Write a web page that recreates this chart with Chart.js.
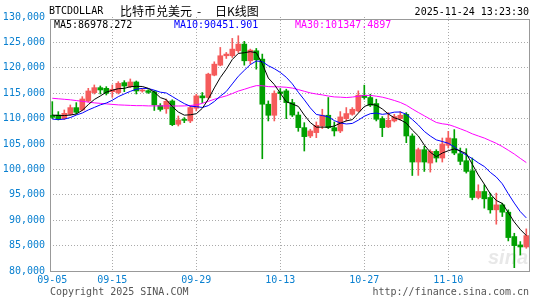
<!DOCTYPE html>
<html>
<head>
<meta charset="utf-8">
<script src="https://cdn.jsdelivr.net/npm/chart.js@4.4.1/dist/chart.umd.min.js"></script>
<style>
  html, body { margin: 0; padding: 0; background: #fff; }
  #wrap { width: 545px; height: 300px; }
</style>
</head>
<body>
<div id="wrap"><canvas id="kline" width="545" height="300"></canvas></div>
<script>
// daily candles, 09-05 .. 11-23 (index 0 .. 79)
const opens = [110650, 110710, 109990, 110840, 112160, 111700, 113470, 115110, 116090, 115960,
  115300, 115110, 117080, 116290, 117210, 115440, 115500, 115300, 112560, 111920,
  113470, 108880, 109800, 109540, 112040, 114470, 114140, 118550, 120520, 122370,
  122370, 123350, 124670, 121380, 123350, 121710, 112830, 110650, 115260, 115460,
  113150, 110700, 108220, 106580, 107240, 108550, 110660, 108220, 107560, 110000,
  110850, 111510, 114600, 114140, 112960, 110000, 108350, 109540, 110000, 110850,
  106580, 101450, 103880, 101250, 103550, 102240, 104740, 106050, 103090, 101710,
  99740, 94470, 95650, 94470, 92040, 93020, 91580, 86780, 85130, 84730];
const highs = [113340, 111370, 111700, 112680, 113140, 114320, 115960, 116620, 116420, 116290,
  116620, 117270, 117470, 117800, 117400, 115900, 115700, 115500, 112950, 113850,
  113700, 110520, 110200, 112500, 114800, 115130, 118940, 121180, 124010, 123020,
  125790, 126310, 125200, 123680, 123810, 122700, 113480, 115460, 115920, 115790,
  113800, 111300, 109200, 107900, 109340, 111840, 114150, 109340, 111380, 112170,
  112170, 115460, 116580, 114800, 113820, 110390, 111180, 110850, 111380, 111180,
  107000, 104200, 104540, 103880, 103880, 106180, 107500, 107830, 104210, 104080,
  102240, 96970, 96970, 95330, 95330, 93350, 92040, 87430, 85790, 88290];
const lows = [110000, 109730, 109800, 110650, 110910, 111570, 113270, 114850, 114850, 114650,
  114190, 114850, 115300, 116090, 114850, 115200, 114950, 111600, 111470, 111030,
  108600, 108550, 109200, 109200, 111510, 113150, 113810, 118420, 120390, 121840,
  122040, 123020, 120520, 120720, 119730, 102100, 109540, 109540, 113700, 109990,
  110400, 107500, 103620, 106250, 106250, 108030, 108030, 106580, 107240, 109540,
  110660, 111320, 113820, 112370, 109540, 106450, 108220, 109340, 109670, 105260,
  98800, 98820, 99600, 99470, 101450, 101450, 104210, 102890, 100920, 99280,
  94010, 94200, 92370, 91380, 89210, 90720, 85920, 80650, 83150, 84470];
const closes = [110250, 109860, 111040, 112160, 111240, 113860, 115440, 116090, 115640, 114980,
  115770, 116950, 116420, 117210, 115440, 115600, 115150, 112700, 111800, 113400,
  108800, 109730, 109650, 112170, 114470, 114080, 118750, 120720, 122370, 122700,
  123680, 124670, 121380, 123480, 121580, 112830, 110650, 114990, 114930, 113150,
  110700, 108220, 106450, 107570, 108680, 110660, 108220, 107570, 110330, 110990,
  111840, 114610, 114150, 112630, 109870, 108220, 109670, 110390, 110660, 106580,
  101450, 103880, 101450, 103550, 102240, 105000, 106180, 103220, 101580, 99600,
  94470, 95650, 94210, 92040, 93020, 91580, 86580, 85000, 84730, 86970];

const ma5 = [110700, 110600, 110600, 110700, 110910, 111630, 112750, 113760, 114450, 115200,
  115580, 115890, 115950, 116270, 116360, 116320, 115960, 115220, 114140, 113730,
  112370, 111290, 110680, 110750, 110960, 112020, 113820, 116040, 118080, 119720,
  121640, 122830, 122960, 123180, 122960, 120790, 117980, 116710, 115000, 113310,
  112880, 112400, 110690, 109220, 108320, 108320, 108320, 108540, 109090, 109550,
  109790, 111070, 112380, 112840, 112620, 111900, 110910, 110160, 109760, 109110,
  107750, 106590, 104800, 103380, 102510, 103220, 103680, 104040, 103640, 103120,
  101010, 98900, 97100, 95190, 93880, 93300, 91490, 89640, 88180, 86978];
const ma10 = [109900, 109800, 109900, 110200, 110700, 111100, 111700, 112200, 112700, 113060,
  113610, 114320, 114860, 115360, 115780, 115950, 115930, 115590, 115200, 115040,
  114350, 113630, 112950, 112440, 112350, 112200, 112560, 113360, 114410, 115340,
  116830, 118330, 119500, 120630, 121340, 121220, 120410, 119830, 119090, 118130,
  116840, 115190, 113700, 112110, 110820, 110600, 110360, 109610, 109150, 108940,
  109050, 109690, 110460, 110970, 111090, 110840, 110990, 111270, 111300, 110860,
  109820, 108750, 107480, 106570, 105810, 105490, 105140, 104420, 103510, 102820,
  102120, 101290, 100570, 99420, 98500, 97160, 95200, 93370, 91690, 90452];
const ma30 = [114000, 113900, 113800, 113700, 113550, 113400, 113250, 113100, 113000, 112900,
  112800, 112700, 112650, 112600, 112550, 112550, 112500, 112500, 112500, 112500,
  112480, 112480, 112500, 112580, 112700, 113000, 113400, 113800, 114150, 114480,
  114930, 115420, 115770, 116150, 116490, 116460, 116300, 116260, 116240, 116170,
  116010, 115710, 115380, 115060, 114840, 114670, 114440, 114270, 114220, 114140,
  114240, 114400, 114550, 114570, 114410, 114220, 113920, 113570, 113180, 112640,
  111900, 111210, 110550, 109880, 109240, 108980, 108830, 108440, 107990, 107540,
  107000, 106580, 106170, 105650, 105130, 104500, 103770, 103020, 102170, 101347];

const tickDays = [0, 10, 24, 38, 52, 66];
const tickLabels = ['09-05', '09-15', '09-29', '10-13', '10-27', '11-10'];

const UP = '#f55b5b';
const DOWN = '#00a000';
const AXIS_BLUE = '#0a80d0';
const MONO = '"DejaVu Sans Mono", monospace';

const candleColors = closes.map((c, i) => (c >= opens[i] ? UP : DOWN));

const lineSet = (label, values, color) => ({
  type: 'line',
  label,
  data: values.map((v, i) => ({ x: i, y: v })),
  borderColor: color,
  borderWidth: 1,
  pointRadius: 0,
  tension: 0,
  fill: false,
  order: 0,
});

const decor = {
  id: 'decor',
  beforeDatasetsDraw(chart) {
    const { ctx, chartArea: a } = chart;
    ctx.save();
    ctx.font = 'italic bold 20px "Liberation Sans", sans-serif';
    ctx.fillStyle = 'rgba(150,150,150,0.22)';
    ctx.textAlign = 'right';
    ctx.textBaseline = 'alphabetic';
    ctx.fillText('sina', a.right - 1, a.bottom - 7);
    ctx.strokeStyle = '#999';
    ctx.lineWidth = 1;
    ctx.strokeRect(a.left + 0.5, a.top + 2.5, a.right - a.left, a.bottom - a.top - 2);
    ctx.restore();
  },
  afterDraw(chart) {
    const { ctx } = chart;
    ctx.save();
    ctx.textBaseline = 'middle';
    ctx.textAlign = 'left';
    ctx.fillStyle = '#000';
    ctx.font = '10px ' + MONO;
    ctx.fillText('BTCDOLLAR', 49, 11);
    ctx.font = '12px "Noto Sans CJK SC"';
    ctx.fillText('比特币兑美元', 120, 11);
    ctx.fillText('-', 197, 11);
    ctx.fillText('日K线图', 215, 11);
    ctx.font = '10px ' + MONO;
    ctx.textAlign = 'right';
    ctx.fillText('2025-11-24 13:23:30', 529, 12);
    ctx.textAlign = 'left';
    ctx.fillText('MA5:86978.272', 54, 25);
    ctx.fillStyle = '#0000ff';
    ctx.fillText('MA10:90451.901', 174, 25);
    ctx.fillStyle = '#ff00ff';
    ctx.fillText('MA30:101347.4897', 295, 25);
    ctx.fillStyle = '#555';
    ctx.fillText('Copyright 2025 SINA.COM', 50, 292);
    ctx.textAlign = 'right';
    ctx.fillText('http://finance.sina.com.cn', 529, 292);
    ctx.restore();
  },
};

new Chart(document.getElementById('kline'), {
  data: {
    datasets: [
      lineSet('MA5', ma5, '#000000'),
      lineSet('MA10', ma10, '#0000ff'),
      lineSet('MA30', ma30, '#ff00ff'),
      {
        type: 'bar',
        label: 'body',
        data: opens.map((o, i) => ({ x: i, y: [o, closes[i]] })),
        backgroundColor: candleColors,
        barThickness: 5,
        minBarLength: 1,
        grouped: false,
        order: 1,
      },
      {
        type: 'bar',
        label: 'wick',
        data: lows.map((l, i) => ({ x: i, y: [l, highs[i]] })),
        backgroundColor: candleColors,
        barThickness: 1,
        grouped: false,
        order: 2,
      },
    ],
  },
  options: {
    responsive: false,
    animation: false,
    devicePixelRatio: 1,
    layout: { padding: { top: 17, right: 16, bottom: 0, left: 0 } },
    plugins: { legend: { display: false }, tooltip: { enabled: false } },
    scales: {
      x: {
        type: 'linear',
        offset: false,
        bounds: 'ticks',
        min: -0.383,
        max: 79.45,
        afterBuildTicks: (scale) => {
          scale.ticks = tickDays.map((value) => ({ value }));
        },
        afterFit: (scale) => {
          scale.height = 29;
        },
        ticks: {
          autoSkip: false,
          maxRotation: 0,
          padding: 3,
          color: AXIS_BLUE,
          font: { family: MONO, size: 10 },
          callback: (value, index) => tickLabels[index],
        },
        grid: {
          offset: false,
          drawTicks: false,
          color: (ctx) => (ctx.index === 0 ? 'rgba(0,0,0,0)' : '#aaa'),
        },
        border: { display: false, dash: [1, 2] },
      },
      y: {
        min: 80000,
        max: 130000,
        afterFit: (scale) => {
          scale.width = 50;
        },
        ticks: {
          stepSize: 5000,
          padding: 5,
          color: AXIS_BLUE,
          font: { family: MONO, size: 10 },
        },
        grid: {
          drawTicks: false,
          color: (ctx) => (ctx.tick.value === 80000 || ctx.tick.value === 130000 ? 'rgba(0,0,0,0)' : '#aaa'),
        },
        border: { display: false, dash: [1, 2] },
      },
    },
  },
  plugins: [decor],
});
</script>
</body>
</html>
